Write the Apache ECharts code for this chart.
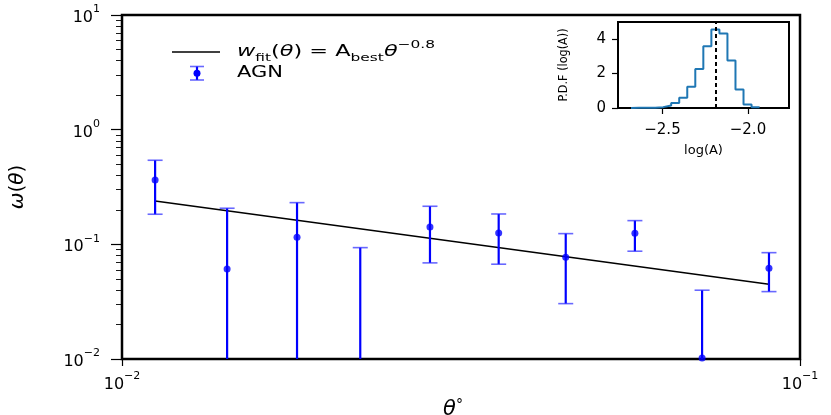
<!DOCTYPE html>
<html><head><meta charset="utf-8">
<script src="https://cdn.jsdelivr.net/npm/echarts@6/dist/echarts.min.js"></script>
<style>html,body{margin:0;padding:0;background:#fff}#c{width:831px;height:415px}</style>
</head><body><div id="c"></div>
<script>
// ---- main panel data ----
const theta   = [0.01119, 0.01429, 0.01812, 0.02246, 0.02846, 0.03594, 0.04513, 0.05708, 0.07171, 0.0900];
const omega   = [0.364,   0.0610,  0.1153,  null,    0.1418,  0.1257,  0.0772,  0.1249,  0.0102,  0.0619];
const errLow  = [0.183,   0.001,   0.001,   0.001,   0.0689,  0.0671,  0.0304,  0.0871,  0.001,   0.0387];
const errHigh = [0.541,   0.2064,  0.231,   0.0936,  0.2148,  0.184,   0.124,   0.161,   0.0398,  0.0846];
const fitTheta = [0.01119, 0.0900];
const fitOmega = [0.239, 0.0449];
const yMinorTicks = [0.02,0.03,0.04,0.05,0.06,0.07,0.08,0.09,0.2,0.3,0.4,0.5,0.6,0.7,0.8,0.9,2,3,4,5,6,7,8,9];
// ---- inset histogram data ----
const histEdges = [-2.684,-2.637,-2.590,-2.543,-2.496,-2.449,-2.402,-2.355,-2.308,-2.261,-2.214,-2.167,-2.120,-2.073,-2.026,-1.979,-1.932];
const histPdf   = [0.01, 0.01, 0.02, 0.05, 0.15, 0.29, 0.60, 1.24, 2.27, 3.59, 4.56, 4.33, 2.76, 1.07, 0.21, 0.04];
const bestLogA = -2.191;
const insetXTicks = [-2.5, -2.0];
const insetYTicks = [0, 2, 4];

const FONT = 'DejaVu Sans';
const BLUE = '#0000ff';
const CAP = 'rgba(40,40,255,0.7)';
const chart = echarts.init(document.getElementById('c'), null, {renderer: 'canvas'});

function sup(v) {
  const e = Math.round(Math.log10(v));
  return '{b|10}{s|' + (e < 0 ? '\u2212' + (-e) : e) + '}';
}
const powRich = {
  b: {fontSize: 16, fontFamily: FONT, color: '#000', lineHeight: 22, verticalAlign: 'bottom'},
  s: {fontSize: 11, fontFamily: FONT, color: '#000', lineHeight: 22, verticalAlign: 'top'}
};

const errData = theta.map((t, i) => [t, errLow[i], errHigh[i]]);
const ptData = theta.map((t, i) => [t, omega[i]]);
const fitData = fitTheta.map((t, i) => [t, fitOmega[i]]);
const histData = [[histEdges[0], 0]];
histPdf.forEach((h, i) => histData.push([histEdges[i], h]));
histData.push([histEdges[histEdges.length - 1], histPdf[histPdf.length - 1]]);
histData.push([histEdges[histEdges.length - 1], 0]);

const option = {
  backgroundColor: '#fff',
  animation: false,
  grid: [
    {left: 122, top: 15, width: 678, height: 344, outerBoundsMode: 'none', containLabel: false,
     show: true, borderColor: '#000', borderWidth: 2.5, backgroundColor: 'transparent'},
    {left: 618, top: 22, width: 171, height: 86, outerBoundsMode: 'none', containLabel: false,
     show: true, borderColor: '#000', borderWidth: 2, backgroundColor: '#fff', z: 10}
  ],
  xAxis: [
    {type: 'log', logBase: 10, min: 0.01, max: 0.1, interval: 1, gridIndex: 0,
     axisLine: {show: false}, splitLine: {show: false},
     axisTick: {show: true, length: 7, lineStyle: {color: '#000', width: 1.2}},
     axisLabel: {margin: 12, formatter: sup, rich: powRich},
     name: '{t|θ}{d|°}', nameLocation: 'middle', nameGap: 28,
     nameTextStyle: {padding: [0, 16, 0, 0], rich: {t: {fontSize: 21, fontStyle: 'italic', fontFamily: FONT, color: '#000'}, d: {fontSize: 14, fontFamily: FONT, color: '#000', verticalAlign: 'top', lineHeight: 24}}}},
    {type: 'value', min: -2.76, max: -1.76, gridIndex: 1,
     axisLine: {show: false}, splitLine: {show: false},
     axisTick: {show: true, length: 6, customValues: insetXTicks, lineStyle: {color: '#000', width: 1.2}},
     axisLabel: {customValues: insetXTicks, margin: 15, fontSize: 15, fontFamily: FONT, color: '#000',
                 formatter: v => (v < 0 ? '\u2212' : '') + Math.abs(v).toFixed(1)},
     name: 'log(A)', nameLocation: 'middle', nameGap: 36,
     nameTextStyle: {fontSize: 13, fontFamily: FONT, color: '#000'}, z: 11}
  ],
  yAxis: [
    {type: 'log', logBase: 10, min: 0.01, max: 10, interval: 1, gridIndex: 0,
     axisLine: {show: false}, splitLine: {show: false},
     axisTick: {show: true, length: 11, lineStyle: {color: '#000', width: 1.2}},
     axisLabel: {margin: 22, formatter: sup, rich: powRich},
     name: '{w|ω}{p|(}{w|θ}{p|)}', nameLocation: 'middle', nameGap: 94, nameRotate: 90,
     nameTextStyle: {rich: {w: {fontSize: 20, fontStyle: 'italic', fontFamily: FONT, color: '#000'}, p: {fontSize: 20, fontFamily: FONT, color: '#000'}}}},
    {type: 'log', logBase: 10, min: 0.01, max: 10, gridIndex: 0, position: 'left',
     axisLine: {show: false}, splitLine: {show: false},
     axisTick: {show: true, length: 6, customValues: yMinorTicks, lineStyle: {color: '#000', width: 0.9}},
     axisLabel: {show: false}},
    {type: 'value', min: 0, max: 5, gridIndex: 1,
     axisLine: {show: false}, splitLine: {show: false},
     axisTick: {show: true, length: 6, customValues: insetYTicks, lineStyle: {color: '#000', width: 1.2}},
     axisLabel: {customValues: insetYTicks, margin: 12, fontSize: 15, fontFamily: FONT, color: '#000'},
     name: 'P.D.F (log(A))', nameLocation: 'middle', nameGap: 48, nameRotate: 90,
     nameTextStyle: {fontSize: 12.5, fontFamily: 'DejaVu Sans Condensed', color: '#000'}, z: 11}
  ],
  series: [
    {type: 'line', name: 'fit', xAxisIndex: 0, yAxisIndex: 0, data: fitData, symbol: 'none',
     lineStyle: {color: '#000', width: 1.5}, z: 3},
    {type: 'custom', name: 'AGN err', xAxisIndex: 0, yAxisIndex: 0, data: errData,
     encode: {x: 0, y: [1, 2]}, z: 4, clip: false,
     renderItem: function (params, api) {
       const cs = params.coordSys;
       const x = api.value(0);
       const pLo = api.coord([x, api.value(1)]);
       const pHi = api.coord([x, api.value(2)]);
       const yBot = cs.y + cs.height, yTop = cs.y;
       const clamp = y => Math.max(yTop, Math.min(yBot, y));
       const px = pLo[0];
       const children = [{type: 'line', shape: {x1: px, y1: clamp(pLo[1]), x2: px, y2: clamp(pHi[1])},
                          style: {stroke: BLUE, lineWidth: 2.2}}];
       const cap = 7.5;
       [pLo[1], pHi[1]].forEach(y => {
         if (y >= yTop && y <= yBot) children.push({type: 'line', shape: {x1: px - cap, y1: y, x2: px + cap, y2: y},
           style: {stroke: CAP, lineWidth: 1.6}});
       });
       return {type: 'group', children: children};
     }},
    {type: 'scatter', name: 'AGN', xAxisIndex: 0, yAxisIndex: 0, data: ptData, symbol: 'circle', symbolSize: 7,
     itemStyle: {color: BLUE}, z: 5},
    {type: 'line', name: 'hist', xAxisIndex: 1, yAxisIndex: 2, data: histData, step: 'end', symbol: 'none',
     lineStyle: {color: '#1f77b4', width: 2}, z: 12,
     markLine: {silent: true, symbol: 'none', z: 13, label: {show: false}, animation: false,
                lineStyle: {color: '#000', type: [4, 3], width: 2}, data: [{xAxis: bestLogA}]}}
  ],
  graphic: [
    {type: 'line', shape: {x1: 172, y1: 52, x2: 220, y2: 52}, style: {stroke: '#000', lineWidth: 1.5}, z: 20},
    {type: 'line', shape: {x1: 197, y1: 66.5, x2: 197, y2: 80}, style: {stroke: BLUE, lineWidth: 2.2}, z: 20},
    {type: 'line', shape: {x1: 190, y1: 66.5, x2: 204, y2: 66.5}, style: {stroke: CAP, lineWidth: 1.6}, z: 20},
    {type: 'line', shape: {x1: 190, y1: 80, x2: 204, y2: 80}, style: {stroke: CAP, lineWidth: 1.6}, z: 20},
    {type: 'circle', shape: {cx: 197, cy: 73.3, r: 3.5}, style: {fill: BLUE}, z: 20},
    {type: 'text', x: 237, y: 52, scaleX: 1.4, z: 20, style: {
      text: '{i|w}{sub|fit}{n|(}{i|θ}{n|) = A}{sub|best}{i|θ}{sup|\u22120.8}',
      verticalAlign: 'middle',
      rich: {
        i: {fontSize: 16, fontStyle: 'italic', fontFamily: FONT, fill: '#000', lineHeight: 24, verticalAlign: 'middle'},
        n: {fontSize: 16, fontFamily: FONT, fill: '#000', lineHeight: 24, verticalAlign: 'middle'},
        sub: {fontSize: 11, fontFamily: FONT, fill: '#000', lineHeight: 24, verticalAlign: 'bottom'},
        sup: {fontSize: 11, fontFamily: FONT, fill: '#000', lineHeight: 24, verticalAlign: 'top'}
      }}},
    {type: 'text', x: 237, y: 73.5, scaleX: 1.4, z: 20, style: {text: 'AGN', fontSize: 15, fontFamily: FONT, fill: '#000', verticalAlign: 'middle'}}
  ]
};
chart.setOption(option);
</script>
</body></html>
